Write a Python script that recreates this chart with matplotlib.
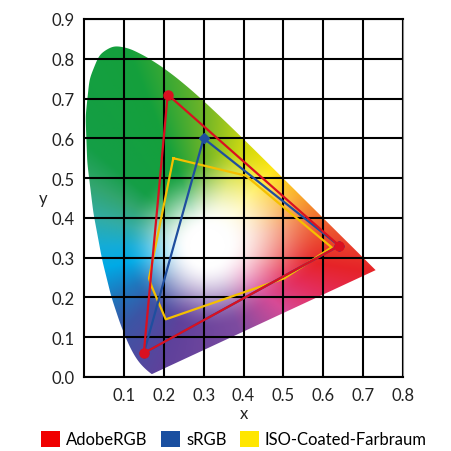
import numpy as np
import matplotlib
matplotlib.use("Agg")
import matplotlib.pyplot as plt
from matplotlib.patches import Polygon, Patch

# CIE 1931 spectral locus (chromaticity x, y), 380-700 nm
locus_x = [0.17411, 0.17401, 0.17380, 0.17356, 0.17334, 0.17302, 0.17258, 0.17209,
           0.17141, 0.17030, 0.16888, 0.16690, 0.16441, 0.16110, 0.15664, 0.15099,
           0.14396, 0.13550, 0.12412, 0.10959, 0.09129, 0.06871, 0.04539, 0.02346,
           0.00817, 0.00386, 0.01387, 0.03885, 0.07430, 0.11416, 0.15472, 0.19288,
           0.22962, 0.26578, 0.30160, 0.33736, 0.37310, 0.40874, 0.44406, 0.47877,
           0.51249, 0.54479, 0.57515, 0.60293, 0.62704, 0.64823, 0.66576, 0.68008,
           0.69150, 0.70061, 0.70792, 0.71403, 0.71903, 0.72303, 0.72599, 0.72827,
           0.72997, 0.73109, 0.73199, 0.73272, 0.73342, 0.73439, 0.73469]
locus_y = [0.00496, 0.00498, 0.00492, 0.00492, 0.00480, 0.00478, 0.00480, 0.00483,
           0.00510, 0.00579, 0.00690, 0.00856, 0.01086, 0.01379, 0.01771, 0.02274,
           0.02970, 0.03988, 0.05780, 0.08684, 0.13270, 0.20072, 0.29498, 0.41270,
           0.53842, 0.65482, 0.75019, 0.81202, 0.83380, 0.82621, 0.80586, 0.78163,
           0.75433, 0.72432, 0.69231, 0.65885, 0.62445, 0.58961, 0.55471, 0.52020,
           0.48659, 0.45443, 0.42423, 0.39650, 0.37249, 0.35139, 0.33401, 0.31975,
           0.30834, 0.29930, 0.29203, 0.28593, 0.28093, 0.27695, 0.27401, 0.27173,
           0.27003, 0.26891, 0.26801, 0.26728, 0.26658, 0.26561, 0.26531]

# Gamuts
adobe_x = [0.64, 0.21, 0.15]
adobe_y = [0.33, 0.71, 0.06]
srgb_x = [0.64, 0.30, 0.15]
srgb_y = [0.33, 0.60, 0.06]
iso_x = [0.224, 0.406, 0.621, 0.502, 0.205, 0.170, 0.163]
iso_y = [0.550, 0.506, 0.326, 0.248, 0.145, 0.227, 0.248]

x_ticks = [0.1, 0.2, 0.3, 0.4, 0.5, 0.6, 0.7, 0.8]
y_ticks = [0.0, 0.1, 0.2, 0.3, 0.4, 0.5, 0.6, 0.7, 0.8, 0.9]
legend_labels = ["AdobeRGB", "sRGB", "ISO-Coated-Farbraum"]

# hue anchors for the background rendering (angle around white point, colour, reach)
anchor_ang = [12, 30, 50, 72, 92, 112, 140, 152, 166, 180, 192, 208, 225, 250, 290, 320, 338, 351]
anchor_rgb = [(238, 100, 50), (250, 170, 30), (255, 228, 0), (200, 215, 20),
              (110, 180, 40), (20, 160, 60), (20, 158, 70), (50, 165, 110),
              (50, 172, 165), (20, 172, 215), (0, 170, 230), (30, 120, 190),
              (60, 85, 165), (95, 65, 155), (125, 75, 160), (215, 75, 150),
              (228, 45, 90), (230, 35, 40)]
anchor_reach = [0.30, 0.30, 0.30, 0.26, 0.23, 0.21, 0.21, 0.21, 0.21, 0.21,
                0.21, 0.21, 0.21, 0.21, 0.21, 0.21, 0.25, 0.29]

plt.rcParams['font.family'] = ['Lato', 'DejaVu Sans']

fig = plt.figure(figsize=(4.52, 4.52), dpi=100)
ax = fig.add_axes([84 / 452, 1 - 378 / 452, (403 - 84) / 452, (378 - 20) / 452])

# smooth the locus outline a little (arc-length resampling + gaussian)
lx = np.array(locus_x)
ly = np.array(locus_y)
seg = np.hypot(np.diff(lx), np.diff(ly))
s = np.concatenate([[0], np.cumsum(seg)])
ss = np.linspace(0, s[-1], 800)
rx = np.interp(ss, s, lx)
ry = np.interp(ss, s, ly)
ds = ss[1] - ss[0]
sig = 0.012 / ds
kk = np.arange(-int(4 * sig), int(4 * sig) + 1)
ker = np.exp(-0.5 * (kk / sig) ** 2)
ker /= ker.sum()
pad = len(kk) // 2
px = np.concatenate([np.full(pad, rx[0]), rx, np.full(pad, rx[-1])])
py = np.concatenate([np.full(pad, ry[0]), ry, np.full(pad, ry[-1])])
sx = np.convolve(px, ker, mode='valid')
sy = np.convolve(py, ker, mode='valid')

# background colour field
W = (0.31, 0.33)
gx = np.linspace(0, 0.8, 640)
gy = np.linspace(0, 0.9, 720)
GX, GY = np.meshgrid(gx, gy)
ang = np.degrees(np.arctan2(GY - W[1], GX - W[0])) % 360
rad = np.hypot(GX - W[0], GY - W[1])
a_ext = np.array([anchor_ang[-1] - 360] + anchor_ang + [anchor_ang[0] + 360], float)
c_ext = np.array([anchor_rgb[-1]] + anchor_rgb + [anchor_rgb[0]], float) / 255.0
r_ext = np.array([anchor_reach[-1]] + anchor_reach + [anchor_reach[0]], float)
reach = np.interp(ang, a_ext, r_ext)
t = np.clip((rad - 0.045) / (reach - 0.045), 0, 1)
f = t * t * (3 - 2 * t)
img = np.ones(GX.shape + (3,))
for k in range(3):
    ck = np.interp(ang, a_ext, c_ext[:, k])
    img[..., k] = (1 - f) + ck * f

poly = Polygon(np.column_stack([sx, sy]), closed=True,
               facecolor='none', edgecolor='none', transform=ax.transData)
ax.add_patch(poly)
im = ax.imshow(img, extent=[0, 0.8, 0, 0.9], origin='lower',
               interpolation='bilinear', aspect='auto', zorder=0)
im.set_clip_path(poly)

ax.set_xlim(0, 0.8)
ax.set_ylim(0, 0.9)
ax.set_xticks(x_ticks)
ax.set_yticks(y_ticks)
ax.set_xticklabels([f"{v:.1f}" for v in x_ticks])
ax.set_yticklabels([f"{v:.1f}" for v in y_ticks])
ax.tick_params(length=0, labelsize=12, pad=7, colors='#222222')
ax.set_axisbelow(False)
ax.grid(True, color='black', linewidth=1.5)
for sp in ax.spines.values():
    sp.set_linewidth(1.5)
    sp.set_color('black')
ax.spines['right'].set_color('#888888')
ax.set_xlabel('x', fontsize=12, labelpad=2, color='#222222')
ax.set_ylabel('y', fontsize=12, labelpad=6, rotation=0, va='center', color='#222222')

# gamut outlines
ax.plot(iso_x + iso_x[:1], iso_y + iso_y[:1], color='#F5C000', linewidth=1.6, zorder=4)
ax.plot(srgb_x + srgb_x[:1], srgb_y + srgb_y[:1], color='#1F4E9E', linewidth=1.6, zorder=5)
ax.plot(srgb_x, srgb_y, linestyle='none', marker='D', markersize=5.5,
        color='#1F4E9E', zorder=5)
ax.plot(adobe_x + adobe_x[:1], adobe_y + adobe_y[:1], color='#DA1020', linewidth=1.6, zorder=6)
ax.plot(adobe_x, adobe_y, linestyle='none', marker='o', markersize=6.5,
        color='#DA1020', zorder=6)

handles = [Patch(facecolor=c, edgecolor='none') for c in ['#F00000', '#1A4FA0', '#FFE600']]
fig.legend(handles, legend_labels, loc='center', bbox_to_anchor=(0.518, 1 - 440 / 452),
           ncol=3, frameon=False, fontsize=12, handlelength=1.15, handleheight=1.15,
           handletextpad=0.35, columnspacing=0.8, borderaxespad=0)

fig.savefig('out.png', dpi=100)
